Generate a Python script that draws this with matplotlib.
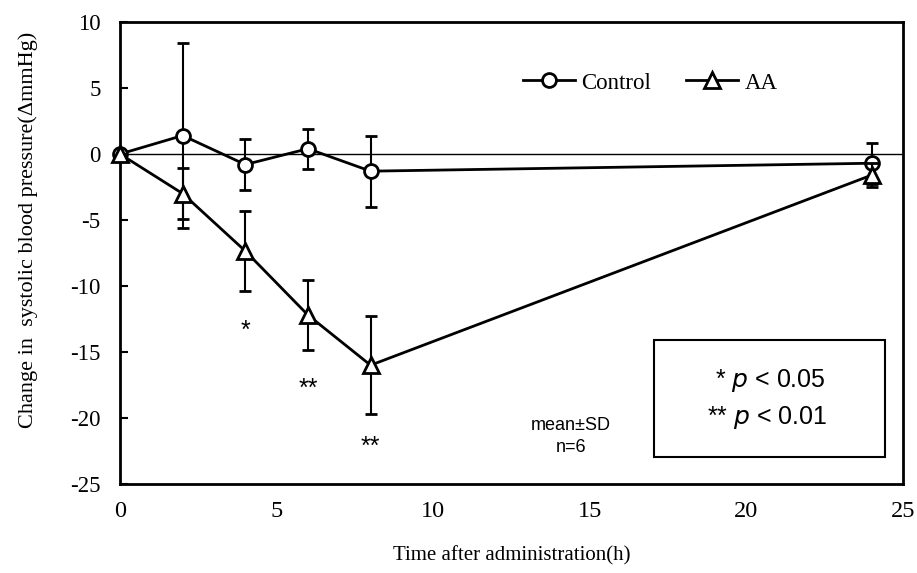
import matplotlib.pyplot as plt
from matplotlib.lines import Line2D
from matplotlib.patches import Rectangle

plt.rcParams["axes.unicode_minus"] = False

# Time points (h) and change in systolic BP (mmHg), mean and SD, n=6
hours = [0, 2, 4, 6, 8, 24]
control_mean = [0.0, 1.4, -0.8, 0.4, -1.3, -0.7]
control_sd = [0.0, 7.0, 1.9, 1.5, 2.7, 1.55]
aa_mean = [0.0, -3.0, -7.35, -12.2, -16.0, -1.6]
aa_sd = [0.0, 1.95, 3.05, 2.65, 3.7, 0.9]

# significance marks below the AA points (baseline of the mark)
sig_hours = [4, 6, 8]
sig_marks = ["*", "**", "**"]
sig_y = [-13.9, -18.3, -22.7]

serif = "Liberation Serif"
sans = "Liberation Sans"

fig = plt.figure(figsize=(9.17, 5.73), dpi=100)
ax = fig.add_axes([0.1309, 0.1553, 0.8538, 0.8063])

ax.axhline(0, color="black", lw=1.0, zorder=1)

style = dict(color="black", lw=2.0, mfc="white", mew=2.0,
             ecolor="black", elinewidth=1.5, capsize=4.5, capthick=1.5)
for mean, sd, mk, ms, z in [(control_mean, control_sd, "o", 10, 3),
                            (aa_mean, aa_sd, "^", 11, 4)]:
    cont = ax.errorbar(hours, mean, yerr=sd, marker=mk, ms=ms, zorder=z, **style)
    cont.lines[0].set_clip_on(False)

for h, m, y in zip(sig_hours, sig_marks, sig_y):
    ax.text(h, y, m, ha="center", va="baseline", fontsize=18, family=sans)

ax.set_xlim(0, 25)
ax.set_ylim(-25, 10)
ax.set_xticks([0, 5, 10, 15, 20, 25])
ax.set_yticks(range(-25, 11, 5))
ax.tick_params(axis="x", length=0, pad=12, labelsize=17.5)
ax.tick_params(axis="y", direction="in", length=6, width=1.5, pad=14, labelsize=16.5)
for lbl in ax.get_xticklabels() + ax.get_yticklabels():
    lbl.set_family(serif)
for sp in ax.spines.values():
    sp.set_linewidth(2.0)

ax.set_xlabel("Time after administration(h)", family=serif, fontsize=15)
ax.xaxis.set_label_coords(0.5, -0.135)
ax.set_ylabel("Change in  systolic blood pressure(\u0394mmHg)", family=serif, fontsize=16)
ax.yaxis.set_label_coords(-0.105, 0.55)

handles = [
    Line2D([], [], color="black", lw=2.0, marker="o", ms=10, mfc="white", mew=2.0),
    Line2D([], [], color="black", lw=2.0, marker="^", ms=11, mfc="white", mew=2.0),
]
ax.legend(handles, ["Control", "AA"], ncol=2, frameon=False,
          loc="center", bbox_to_anchor=(0.677, 0.868),
          prop={"family": serif, "size": 16.5}, handlelength=2.3,
          handletextpad=0.27, columnspacing=1.5)

ax.text(0.576, 0.102, "mean\u00b1SD\nn=6", transform=ax.transAxes,
        ha="center", va="center", fontsize=13, family=sans, linespacing=1.4)

# significance key box
ax.add_patch(Rectangle((0.682, 0.058), 0.295, 0.254, transform=ax.transAxes,
                       fc="white", ec="black", lw=1.5, zorder=5))
ax.text(0.83, 0.225, "* $\\it{p}$ < 0.05", transform=ax.transAxes,
        ha="center", va="center", fontsize=18, family=sans, zorder=6)
ax.text(0.826, 0.143, "** $\\it{p}$ < 0.01", transform=ax.transAxes,
        ha="center", va="center", fontsize=18, family=sans, zorder=6)

fig.savefig("out.png", dpi=100)
